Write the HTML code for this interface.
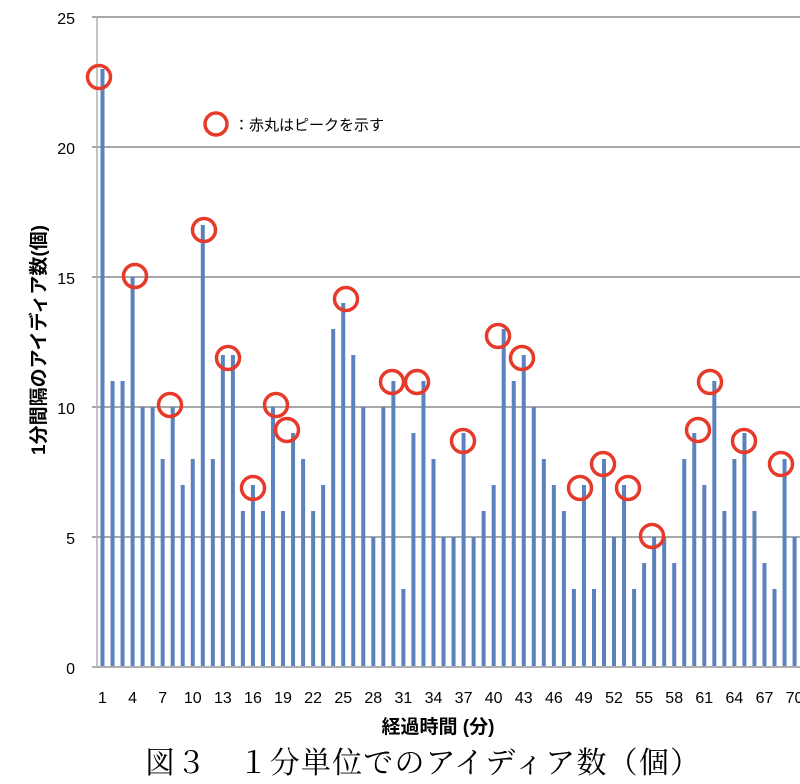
<!DOCTYPE html>
<html><head><meta charset="utf-8"><style>
html,body{margin:0;padding:0;background:#fff;width:800px;height:784px;overflow:hidden}
svg{display:block}
</style></head><body>
<svg id="s" width="800" height="784" xmlns="http://www.w3.org/2000/svg" font-family="Liberation Sans, Noto Sans CJK JP, sans-serif">
<g stroke="#8c8c8c" stroke-width="1.5">
<line x1="92" y1="17" x2="800" y2="17"/>
<line x1="92" y1="147" x2="800" y2="147"/>
<line x1="92" y1="277" x2="800" y2="277"/>
<line x1="92" y1="407" x2="800" y2="407"/>
<line x1="92" y1="537" x2="800" y2="537"/>
</g>
<g id="bars" fill="#5b82bd"></g>
<line x1="92" y1="667" x2="800" y2="667" stroke="#b0b0b0" stroke-width="2"/>
<line x1="97" y1="17" x2="97" y2="667" stroke="#b0b0b0" stroke-width="1.5"/>
<g font-size="16" fill="#000" text-anchor="end">
<text x="75" y="24">25</text><text x="75" y="154">20</text><text x="75" y="284">15</text>
<text x="75" y="414">10</text><text x="75" y="544">5</text><text x="75" y="674">0</text>
</g>
<g id="xl" font-size="16" fill="#000" text-anchor="middle"></g>
<g id="circ" fill="none" stroke="#e63a2a" stroke-width="3.5"></g>
<circle cx="216" cy="124" r="11" fill="none" stroke="#e63a2a" stroke-width="3.5"/>
<text x="234" y="130" font-size="15">：赤丸はピークを示す</text>
<text transform="translate(45,340) rotate(-90)" font-size="19" font-weight="bold" text-anchor="middle">1分間隔のアイディア数(個)</text>
<text x="438" y="733" font-size="19" font-weight="bold" text-anchor="middle">経過時間 (分)</text>
<text x="145" y="773" font-size="30" textLength="555" lengthAdjust="spacing" font-family="Liberation Serif, Noto Serif CJK SC, serif">図３　１分単位でのアイディア数（個）</text>
</svg>
<script>
var v=[23,11,11,15,10,10,8,10,7,8,17,8,12,12,6,7,6,10,6,9,8,6,7,13,14,12,10,5,10,11,3,9,11,8,5,5,9,5,6,7,13,11,12,10,8,7,6,3,7,3,8,5,7,3,4,5,5,4,8,9,7,11,6,8,9,6,4,3,8,5];
var ns="http://www.w3.org/2000/svg";
var b=document.getElementById("bars"),xl=document.getElementById("xl"),c=document.getElementById("circ");
for(var i=0;i<70;i++){var x=102.5+i*10.03;var r=document.createElementNS(ns,"rect");
r.setAttribute("x",x-2);r.setAttribute("width",4);r.setAttribute("y",667-v[i]*26);r.setAttribute("height",v[i]*26);b.appendChild(r);
if(i%3==0){var t=document.createElementNS(ns,"text");t.setAttribute("x",x);t.setAttribute("y",703);t.textContent=(i+1);xl.appendChild(t);}}
var cc=[[99,77],[135,276],[170,405],[204,230],[228,358],[253,488],[276,405],[287,430],[346,299],[392,382],[417,382],[463,441],[498,336],[522,358],[580,488],[603,464],[628,488],[652,536],[698,430],[710,382],[744,441],[781,464]];
cc.forEach(function(p){var e=document.createElementNS(ns,"circle");e.setAttribute("cx",p[0]);e.setAttribute("cy",p[1]);e.setAttribute("r",11.5);c.appendChild(e);});
</script>
</body></html>
